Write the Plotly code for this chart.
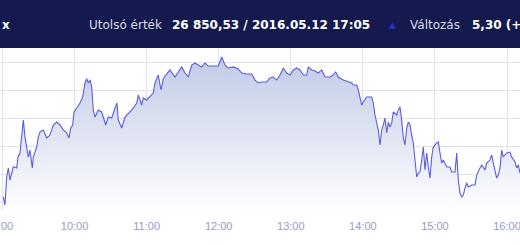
import pandas as pd
import plotly.graph_objects as go

# minutes after 09:00 on 2016-05-12 and BUX index values
minutes_after_open = [
    0.67, 2.08, 3.50, 4.83, 6.24, 8.99, 11.82, 12.90, 14.57, 15.98, 17.32, 18.73, 20.15, 21.48,
    22.89, 24.81, 25.64, 28.47, 29.80, 31.22, 33.97, 36.80, 39.54, 42.29, 45.12, 47.87, 50.62,
    53.45, 55.36, 56.78, 58.44, 59.52, 61.77, 64.52, 66.77, 68.68, 70.10, 71.43, 72.84, 74.26,
    75.59, 77.01, 79.75, 82.58, 83.92, 85.91, 88.08, 90.91, 93.66, 95.32, 96.40, 99.23, 101.98,
    106.14, 108.89, 111.72, 113.05, 115.88, 117.22, 120.05, 122.79, 125.54, 126.96, 129.70,
    131.95, 133.87, 136.70, 139.44, 143.61, 146.35, 149.18, 151.93, 154.68, 157.51, 160.26,
    163.00, 165.83, 168.58, 171.33, 175.49, 179.65, 182.48, 185.23, 187.98, 192.14, 196.30,
    199.13, 203.30, 207.46, 210.21, 212.95, 215.78, 219.95, 222.69, 225.44, 228.27, 231.02,
    233.77, 236.60, 239.34, 242.09, 244.92, 247.67, 250.42, 253.25, 254.58, 257.41, 260.16,
    262.90, 265.73, 268.48, 272.64, 275.39, 277.39, 279.55, 283.71, 287.88, 290.71, 292.04,
    294.87, 296.20, 297.62, 299.03, 300.37, 303.20, 307.36, 308.69, 310.11, 311.52, 312.86,
    314.27, 315.69, 317.02, 318.43, 319.85, 321.18, 322.59, 324.01, 325.34, 328.17, 329.50,
    330.92, 332.33, 333.67, 335.08, 336.50, 337.83, 339.24, 340.66, 341.99, 343.41, 344.82,
    346.15, 347.57, 348.98, 350.32, 351.73, 353.15, 354.48, 355.90, 357.31, 358.64, 361.47,
    362.81, 364.22, 365.64, 366.97, 369.80, 372.54, 373.96, 376.71, 378.12, 379.45, 380.87,
    382.28, 383.62, 385.03, 386.45, 387.78, 390.61, 393.36, 394.77, 397.52, 398.93, 401.68,
    403.10, 405.84, 407.26, 408.59, 410.01, 411.42, 412.75, 414.17, 415.58, 416.92, 419.75,
    422.49, 423.91, 426.66, 428.07, 429.40, 430.81,
]
index_values = [
    26804.7, 26797.3, 26822.6, 26830.4, 26819.6, 26831.5, 26830.4, 26840.2, 26843.8, 26858.0,
    26873.2, 26858.0, 26849.1, 26840.2, 26846.4, 26830.4, 26840.2, 26849.1, 26858.0, 26862.5,
    26864.3, 26857.2, 26859.8, 26868.8, 26871.4, 26868.8, 26864.3, 26861.6, 26857.2, 26866.1,
    26868.8, 26880.4, 26883.9, 26888.4, 26893.8, 26906.3, 26910.0, 26906.3, 26909.0, 26902.7,
    26882.2, 26875.9, 26882.2, 26880.4, 26875.9, 26868.8, 26875.9, 26875.0, 26883.9, 26888.4,
    26873.2, 26866.1, 26875.9, 26880.4, 26883.9, 26888.4, 26895.5, 26886.6, 26892.9, 26891.1,
    26893.8, 26897.3, 26906.3, 26913.4, 26900.0, 26910.0, 26914.5, 26917.9, 26911.6, 26916.1,
    26920.6, 26915.2, 26911.6, 26922.3, 26924.1, 26922.3, 26920.6, 26924.1, 26921.4, 26921.4,
    26921.4, 26929.5, 26922.3, 26919.7, 26920.6, 26918.8, 26915.2, 26914.3, 26914.3, 26908.9,
    26906.3, 26907.2, 26907.2, 26910.7, 26911.6, 26908.9, 26913.4, 26919.7, 26915.2, 26913.4,
    26917.9, 26919.7, 26917.9, 26913.4, 26913.4, 26920.6, 26917.9, 26917.0, 26915.2, 26917.9,
    26911.6, 26911.6, 26913.4, 26916.1, 26911.6, 26908.9, 26907.2, 26906.3, 26904.5, 26904.5,
    26900.0, 26893.8, 26886.6, 26889.3, 26893.8, 26893.8, 26888.4, 26877.7, 26868.8, 26864.3,
    26850.9, 26864.3, 26868.8, 26875.0, 26861.6, 26871.4, 26867.0, 26870.5, 26880.4, 26877.7,
    26882.2, 26884.8, 26873.2, 26857.2, 26850.9, 26866.1, 26871.4, 26868.8, 26859.8, 26852.7,
    26837.5, 26822.3, 26825.9, 26826.8, 26837.5, 26849.1, 26828.6, 26843.8, 26831.3, 26821.4,
    26840.2, 26849.1, 26852.7, 26853.6, 26843.8, 26834.8, 26837.5, 26831.3, 26831.3, 26826.8,
    26826.8, 26843.8, 26819.6, 26808.0, 26804.5, 26806.3, 26812.5, 26817.0, 26813.4, 26815.2,
    26815.2, 26824.1, 26830.4, 26833.0, 26828.6, 26834.8, 26837.5, 26842.0, 26834.8, 26828.6,
    26821.4, 26824.1, 26830.4, 26846.4, 26840.2, 26843.8, 26844.6, 26840.2, 26835.7, 26830.4,
    26833.0, 26825.9,
]

header_label_last = "Utolsó érték"
header_value_last = "26 850,53 / 2016.05.12 17:05"
header_label_change = "Változás"
header_value_change = "5,30 (+"

session_open = pd.Timestamp("2016-05-12 09:00:00")
times = session_open + pd.to_timedelta(minutes_after_open, unit="min")

fig = go.Figure()
fig.add_trace(go.Scatter(
    x=times, y=index_values, mode="lines",
    line=dict(color="#5b5be3", width=1.1),
    fill="tozeroy",
    fillgradient=dict(type="vertical", start=26792, stop=26935,
                      colorscale=[[0, "#ffffff"], [1, "#bfc8e6"]]),
    hoverinfo="skip", showlegend=False,
))

plot_top, plot_bottom = 48, 210
ph = plot_bottom - plot_top

def py(ypx):
    return (plot_bottom - ypx) / ph

fig.add_shape(type="rect", xref="paper", yref="paper", x0=0, x1=1, y0=1, y1=py(-5),
              fillcolor="#141a4e", line_width=0, layer="above")

hfont = dict(family="DejaVu Sans", size=12, color="#d9dcea")
bfont = dict(family="DejaVu Sans", size=12, color="#ffffff", weight="bold")
yc = py(25)
anns = [
    dict(text="x", x=1 / 520, font=bfont),
    dict(text=header_label_last, x=88 / 520, font=hfont),
    dict(text=header_value_last, x=171 / 520, font=bfont),
    dict(text="▲", x=388 / 520, font=dict(family="DejaVu Sans", size=9, color="#1f2fd0")),
    dict(text=header_label_change, x=409 / 520, font=hfont),
    dict(text=header_value_change, x=471 / 520, font=bfont),
]
for a in anns:
    fig.add_annotation(xref="paper", yref="paper", y=yc, xanchor="left", yanchor="middle",
                       showarrow=False, borderpad=0, **a)

fig.update_layout(
    width=520, height=245,
    margin=dict(l=0, r=0, t=plot_top, b=245 - plot_bottom, autoexpand=False),
    paper_bgcolor="#ffffff", plot_bgcolor="#ffffff",
    xaxis=dict(
        range=[pd.Timestamp("2016-05-12 08:57:55"), pd.Timestamp("2016-05-12 16:10:49")],
        tick0="2016-05-12 09:00:00", dtick=3600000, tickformat="%-H:%M",
        showgrid=True, gridcolor="#dde2ec", gridwidth=1, zeroline=False, showline=False,
        ticks="", ticklabeloverflow="allow", automargin=False, ticklabelstandoff=8,
        tickfont=dict(family="Liberation Sans", size=11, color="#9a9cbf"),
    ),
    yaxis=dict(
        range=[26792.9, 26937.5], tick0=26800, dtick=25,
        showgrid=True, gridcolor="#dde2ec", gridwidth=1, zeroline=False,
        showticklabels=False, ticks="", automargin=False,
    ),
)

fig.write_html("out.html")
